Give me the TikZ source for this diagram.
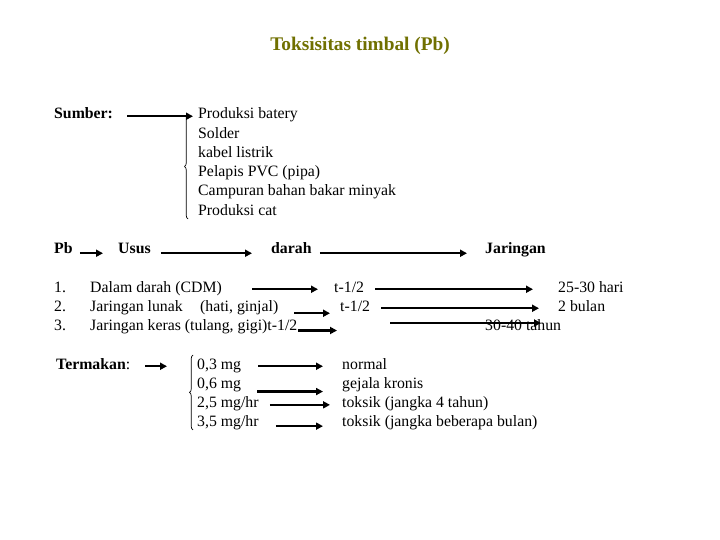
\documentclass[tikz,border=0pt]{standalone}
\usepackage{fontspec}
\setmainfont{Liberation Serif}
\usetikzlibrary{arrows.meta,decorations.pathreplacing}
\definecolor{judul}{RGB}{112,112,0}

\begin{document}
\begin{tikzpicture}[x=1pt,y=-1pt,
    txt/.style={anchor=base west,inner sep=0pt,text height=1.5ex,text depth=.3ex,
      font=\fontsize{15.8}{19}\selectfont},
    tb/.style={txt,font=\fontsize{15.8}{19}\selectfont\bfseries},
    panah/.style={line width=2.2pt,-{Triangle[length=7pt,width=7pt]}},
    kurung/.style={decorate,decoration={brace,amplitude=3.5pt},line width=.7pt}]
  \fill[white] (0,0) rectangle (720,540);
  \useasboundingbox (0,0) rectangle (720,540);

  % judul
  \node[font=\fontsize{19.3}{23}\selectfont\bfseries,text=judul] (judul) at (360,46) {Toksisitas timbal (Pb)};

  % sumber
  \node[tb] (sumber) at (54,119) {Sumber:};
  \foreach \isi [count=\i from 0] in {Produksi batery,Solder,kabel listrik,Pelapis PVC (pipa),Campuran bahan bakar minyak,Produksi cat}
    \node[txt] (s\i) at (198,119+19.2*\i) {\isi};
  \draw[panah] ([xshift=14pt]sumber.east) -- ([xshift=-5pt]s0.west);
  \draw[kurung] ([xshift=-10pt,yshift=-4pt]s5.base west) -- ([xshift=-10pt,yshift=5pt]s0.base west);

  % jalur Pb
  \node[tb] (pb) at (54,254) {Pb};
  \node[tb] (usus) at (118,254) {Usus};
  \node[tb] (darah) at (271,254) {darah};
  \node[tb] (jar) at (485,254) {Jaringan};
  \draw[panah] ([xshift=7pt,yshift=-2pt]pb.east) -- ([xshift=-15pt,yshift=-2pt]usus.west);
  \draw[panah] ([xshift=10pt,yshift=-2pt]usus.east) -- ([xshift=-19pt,yshift=-2pt]darah.west);
  \draw[panah] ([xshift=8pt,yshift=-2pt]darah.east) -- ([xshift=-18pt,yshift=-2pt]jar.west);

  % waktu paruh
  \node[txt] (n1) at (54,292) {1.};
  \node[txt] (n2) at (54,311) {2.};
  \node[txt] (n3) at (54,330) {3.};
  \node[txt] (d1) at (90,292) {Dalam darah (CDM)};
  \node[txt] (d2) at (90,311) {Jaringan lunak\hspace{1.1em}(hati, ginjal)};
  \node[txt] (d3) at (90,330) {Jaringan keras (tulang, gigi)t-1/2};
  \node[txt] (t1) at (334,292) {t-1/2};
  \node[txt] (t2) at (340,311) {t-1/2};
  \node[txt] (h1) at (558,292) {25-30 hari};
  \node[txt] (h2) at (558,311) {2 bulan};
  \node[txt] (h3) at (485,330) {30-40 tahun};
  \coordinate (u3) at (337,330.5);
  \coordinate (v3) at (390,323);
  \coordinate (w3) at (541,323);
  \draw[panah] ([xshift=30pt]d1.east) -- ([xshift=-16pt]t1.west);
  \draw[panah] ([xshift=11pt]t1.east) -- ([xshift=-25pt]h1.west);
  \draw[panah] ([xshift=16pt,yshift=-5pt]d2.east) -- ([xshift=-10pt,yshift=-5pt]t2.west);
  \draw[panah] ([xshift=11pt]t2.east) -- ([xshift=-19pt]h2.west);
  \draw[panah] (d3.east |- u3) -- (u3);
  \draw[panah] (v3) -- (w3);

  % termakan
  \node[txt] (mkn) at (56,369) {\textbf{Termakan}:};
  \foreach \dosis/\hasil [count=\i from 0] in {{0,3 mg}/normal,{0,6 mg}/gejala kronis,{2,5 mg/hr}/toksik (jangka 4 tahun),{3,5 mg/hr}/toksik (jangka beberapa bulan)}{
    \node[txt] (m\i) at (197,369+19.3*\i) {\dosis};
    \node[txt] (r\i) at (342,369+19.3*\i) {\hasil};
  }
  \draw[panah] ([xshift=15pt]mkn.east) -- ([xshift=-30pt]m0.west);
  \draw[kurung] ([xshift=-4pt,yshift=-3pt]m3.base west) -- ([xshift=-4pt,yshift=14pt]m0.base west);
  \draw[panah] ([xshift=17pt]m0.east) -- ([xshift=-19pt]r0.west);
  \draw[panah] ([xshift=16pt,yshift=-6pt]m1.east) -- ([xshift=-19pt,yshift=-6pt]r1.west);
  \draw[panah] ([xshift=11pt]m2.east) -- ([xshift=-12pt]r2.west);
  \draw[panah] ([xshift=17pt,yshift=-2pt]m3.east) -- ([xshift=-19pt,yshift=-2pt]r3.west);
\end{tikzpicture}
\end{document}
